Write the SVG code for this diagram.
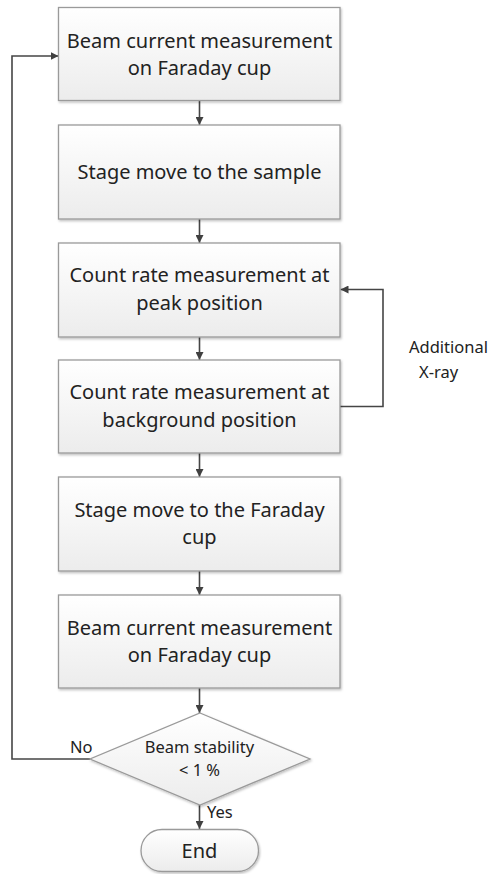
<svg xmlns="http://www.w3.org/2000/svg" width="491" height="874" viewBox="0 0 491 874">
  <defs>
    <linearGradient id="boxFill" x1="0" y1="0" x2="0" y2="1">
      <stop offset="0" stop-color="#ffffff"/>
      <stop offset="1" stop-color="#ececec"/>
    </linearGradient>
    <filter id="shadow" x="-10%" y="-10%" width="120%" height="130%">
      <feDropShadow dx="1" dy="1.5" stdDeviation="1" flood-color="#000" flood-opacity="0.25"/>
    </filter>
    <marker id="arrow" viewBox="0 0 10 10" refX="10" refY="5" markerWidth="8" markerHeight="8" markerUnits="userSpaceOnUse" orient="auto">
      <path d="M0,0 L10,5 L0,10 z" fill="#404040"/>
    </marker>
  </defs>
  <style>
    .box { fill: url(#boxFill); stroke: #9a9a9a; stroke-width: 1.3; filter: url(#shadow); }
    .lbl { font-family: "Noto Sans", "Open Sans", sans-serif; font-size: 20px; fill: #222222; text-anchor: middle; }
    .small { font-family: "Noto Sans", "Open Sans", sans-serif; font-size: 16.5px; fill: #222222; }
    .conn { fill: none; stroke: #454545; stroke-width: 1.6; marker-end: url(#arrow); }
  </style>

  <g id="connectors">
    <line class="conn" x1="199.5" y1="101" x2="199.5" y2="125"/>
    <line class="conn" x1="199.5" y1="219" x2="199.5" y2="243"/>
    <line class="conn" x1="199.5" y1="337" x2="199.5" y2="360"/>
    <line class="conn" x1="199.5" y1="453" x2="199.5" y2="477"/>
    <line class="conn" x1="199.5" y1="571" x2="199.5" y2="595"/>
    <line class="conn" x1="199.5" y1="688" x2="199.5" y2="713"/>
    <line class="conn" x1="199.5" y1="805" x2="199.5" y2="829"/>
    <!-- repeat loop for another X-ray line -->
    <polyline class="conn" points="340,406.5 383,406.5 383,289.5 340.5,289.5"/>
    <!-- unstable beam: start over -->
    <polyline class="conn" points="90,759 12,759 12,56 58.5,56"/>
  </g>

  <g id="n1">
    <rect class="box" x="58.5" y="7.5" width="281.5" height="93"/>
    <text class="lbl" x="199.5" y="47.5">Beam current measurement</text>
    <text class="lbl" x="199.5" y="75">on Faraday cup</text>
  </g>
  <g id="n2">
    <rect class="box" x="58.5" y="125" width="281.5" height="94"/>
    <text class="lbl" x="199.5" y="179">Stage move to the sample</text>
  </g>
  <g id="n3">
    <rect class="box" x="58.5" y="243" width="281.5" height="94"/>
    <text class="lbl" x="199.5" y="281.5">Count rate measurement at</text>
    <text class="lbl" x="199.5" y="309.5">peak position</text>
  </g>
  <g id="n4">
    <rect class="box" x="58.5" y="360" width="281.5" height="93"/>
    <text class="lbl" x="199.5" y="398.5">Count rate measurement at</text>
    <text class="lbl" x="199.5" y="426.5">background position</text>
  </g>
  <g id="n5">
    <rect class="box" x="58.5" y="477" width="281.5" height="94"/>
    <text class="lbl" x="199.5" y="516.5">Stage move to the Faraday</text>
    <text class="lbl" x="199.5" y="544">cup</text>
  </g>
  <g id="n6">
    <rect class="box" x="58.5" y="595" width="281.5" height="93"/>
    <text class="lbl" x="199.5" y="635">Beam current measurement</text>
    <text class="lbl" x="199.5" y="662">on Faraday cup</text>
  </g>
  <g id="decision">
    <polygon class="box" points="200,713 310,759 200,805 90,759"/>
    <text class="small" x="199.5" y="753" text-anchor="middle">Beam stability</text>
    <text class="small" x="199.5" y="776" text-anchor="middle">&lt; 1 %</text>
  </g>
  <g id="end">
    <rect class="box" x="141" y="829.5" width="117.5" height="42" rx="21" ry="21"/>
    <text class="lbl" x="199.5" y="858">End</text>
  </g>

  <g id="labels">
    <text class="small" x="70" y="753">No</text>
    <text class="small" x="207" y="818">Yes</text>
    <text class="small" x="409" y="353">Additional</text>
    <text class="small" x="419" y="378">X-ray</text>
  </g>
</svg>
